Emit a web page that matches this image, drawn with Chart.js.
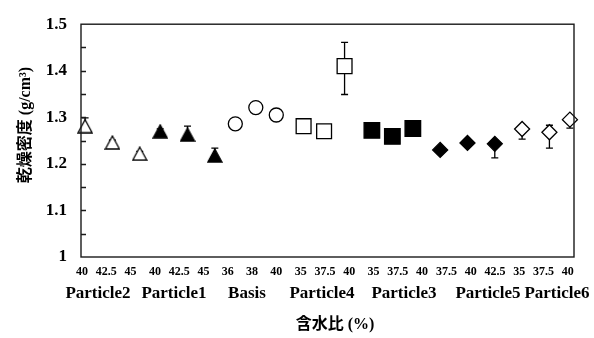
<!DOCTYPE html>
<html>
<head>
<meta charset="utf-8">
<script src="https://cdn.jsdelivr.net/npm/chart.js@4.4.1/dist/chart.umd.min.js"></script>
<style>
  html, body { margin: 0; padding: 0; background: #fff; }
  #wrap { width: 594px; height: 338px; }
</style>
</head>
<body>
<div id="wrap"><canvas id="chart"></canvas></div>
<script>
// =====================
// DATA
// =====================
const groups = ["Particle2", "Particle1", "Basis", "Particle4", "Particle3", "Particle5", "Particle6"];
const waterContent = [
  [40, 42.5, 45], [40, 42.5, 45], [36, 38, 40], [35, 37.5, 40],
  [35, 37.5, 40], [37.5, 40, 42.5], [35, 37.5, 40]
];
// horizontal placement of each point (axis units)
const xPos = [
  [0, 4, 8], [11, 15, 19], [22, 25, 28], [32, 35, 38],
  [42, 45, 48], [52, 56, 60], [64, 68, 71]
];
const density = [
  [1.281, 1.246, 1.222], [1.270, 1.263, 1.218], [1.286, 1.321, 1.305],
  [1.281, 1.270, 1.410], [1.272, 1.259, 1.276], [1.230, 1.245, 1.243],
  [1.275, 1.268, 1.295]
];
// error bars, upper and lower part
const errUp = [
  [0.018, 0.005, 0.005], [0.005, 0.018, 0.016], [0.005, 0.005, 0.005],
  [0.005, 0.005, 0.051], [0.005, 0.005, 0.005], [0.005, 0.005, 0.005],
  [0.005, 0.015, 0.005]
];
const errDown = [
  [0.005, 0.005, 0.005], [0.005, 0.005, 0.005], [0.005, 0.005, 0.005],
  [0.005, 0.005, 0.061], [0.005, 0.005, 0.005], [0.005, 0.005, 0.030],
  [0.022, 0.034, 0.018]
];
const yMin = 1, yMax = 1.5, yStep = 0.1, yMinorStep = 0.05;

const SERIF = "'Liberation Serif', 'Times New Roman', serif";
const MIXED = "'Liberation Serif', 'Noto Sans CJK JP', serif";
const tickLabels = waterContent.flat();

// triangle drawn centred on its bounding box
function triangleImage(fill) {
  const c = document.createElement("canvas");
  c.width = 16; c.height = 15;
  const g = c.getContext("2d");
  g.beginPath();
  g.moveTo(8, 1);
  g.lineTo(15, 14);
  g.lineTo(1, 14);
  g.closePath();
  g.fillStyle = fill;
  g.fill();
  g.lineWidth = 1.3;
  g.strokeStyle = "#000";
  g.stroke();
  return c;
}

// marker look per group
const markers = [
  { style: triangleImage("#ffffff"), fill: "#ffffff", r: 8 },
  { style: triangleImage("#000000"), fill: "#000000", r: 8 },
  { style: "circle", fill: "#ffffff", r: 7 },
  { style: "rect", fill: "#ffffff", r: 10.5 },
  { style: "rect", fill: "#000000", r: 11 },
  { style: "rectRot", fill: "#000000", r: 7.5 },
  { style: "rectRot", fill: "#ffffff", r: 7.5 }
];
const groupLabelX = [98, 174, 247, 322, 404, 488, 557];

// =====================
// DECORATION PLUGIN
// =====================
const decor = {
  id: "decor",
  beforeDatasetsDraw(chart) {
    const { ctx, scales: { x, y } } = chart;
    ctx.save();
    ctx.strokeStyle = "#000";
    ctx.lineWidth = 1.3;
    groups.forEach((g, i) => {
      density[i].forEach((v, j) => {
        const px = x.getPixelForValue(xPos[i][j]);
        const top = y.getPixelForValue(v + errUp[i][j]);
        const bot = y.getPixelForValue(v - errDown[i][j]);
        ctx.beginPath();
        ctx.moveTo(px, top); ctx.lineTo(px, bot);
        ctx.moveTo(px - 3.5, top); ctx.lineTo(px + 3.5, top);
        ctx.moveTo(px - 3.5, bot); ctx.lineTo(px + 3.5, bot);
        ctx.stroke();
      });
    });
    ctx.restore();
  },
  afterDatasetsDraw(chart) {
    const { ctx, chartArea: a, scales: { y } } = chart;
    ctx.save();
    // box
    ctx.strokeStyle = "#1a1a1a";
    ctx.lineWidth = 1.4;
    ctx.strokeRect(a.left, a.top, a.right - a.left, a.bottom - a.top);
    // inward ticks on the value axis
    ctx.beginPath();
    const n = Math.round((yMax - yMin) / yMinorStep);
    for (let k = 1; k < n; k++) {
      const py = Math.round(y.getPixelForValue(yMin + k * yMinorStep)) + 0.5;
      ctx.moveTo(a.left, py); ctx.lineTo(a.left + 5, py);
    }
    ctx.stroke();

    ctx.fillStyle = "#000";
    ctx.textAlign = "center";
    ctx.textBaseline = "middle";
    // group names
    ctx.font = "bold 17px " + SERIF;
    groups.forEach((g, i) => ctx.fillText(g, groupLabelX[i], 294));
    // x title
    ctx.font = "bold 16px " + MIXED;
    ctx.fillText("含水比 (%)", 335, 325);
    // y title
    ctx.translate(26, 125);
    ctx.rotate(-Math.PI / 2);
    ctx.fillText("乾燥密度 (g/cm³)", 0, 0);
    ctx.restore();
  }
};

// =====================
// CHART
// =====================
const datasets = groups.map((g, i) => ({
  label: g,
  data: density[i].map((v, j) => ({ x: xPos[i][j], y: v })),
  pointStyle: markers[i].style,
  pointRadius: markers[i].r,
  pointHoverRadius: markers[i].r,
  backgroundColor: markers[i].fill,
  borderColor: "#000",
  pointBorderWidth: 1.3,
  showLine: false,
  clip: false
}));

new Chart(document.getElementById("chart"), {
  type: "scatter",
  data: { datasets },
  options: {
    responsive: true,
    maintainAspectRatio: false,
    animation: false,
    events: [],
    layout: { padding: { top: 16, right: 20, left: 0, bottom: 0 } },
    plugins: { legend: { display: false }, tooltip: { enabled: false } },
    scales: {
      x: {
        type: "linear",
        min: -0.6,
        max: 71.6,
        afterFit(scale) { scale.height = 81; },
        // labels are spread evenly under the plot
        afterBuildTicks(scale) {
          const lo = scale.min + 0.15, hi = scale.max - 0.9;
          const step = (hi - lo) / (tickLabels.length - 1);
          scale.ticks = tickLabels.map((t, k) => ({ value: lo + k * step }));
        },
        grid: { display: false, drawTicks: false },
        border: { display: false },
        ticks: {
          autoSkip: false,
          maxRotation: 0,
          padding: 8,
          color: "#000",
          font: { family: SERIF, size: 12, weight: "bold" },
          callback: (v, i) => tickLabels[i]
        }
      },
      y: {
        min: yMin,
        max: yMax,
        afterFit(scale) { scale.width = 81; },
        grid: { display: false, drawTicks: false },
        border: { display: false },
        ticks: {
          stepSize: yStep,
          padding: 14,
          color: "#000",
          font: { family: SERIF, size: 17, weight: "bold" },
          callback: v => String(Math.round(v * 10) / 10)
        }
      }
    }
  },
  plugins: [decor]
});
</script>
</body>
</html>
